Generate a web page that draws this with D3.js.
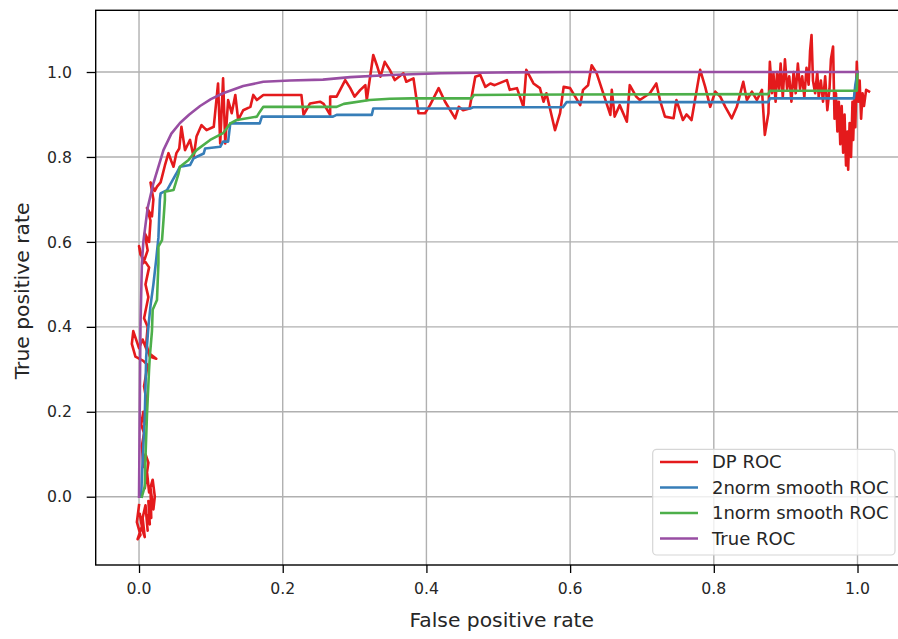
<!DOCTYPE html>
<html><head><meta charset="utf-8">
<script src="https://cdn.jsdelivr.net/npm/d3@7"></script>
<style>body{margin:0;background:#fff}svg{display:block}text{font-family:"DejaVu Sans",sans-serif;fill:#262626}</style>
</head><body><svg id="c" width="898" height="639"></svg>
<script>
const xTicks=[0.0,0.2,0.4,0.6,0.8,1.0];
const yTicks=[0.0,0.2,0.4,0.6,0.8,1.0];
const xLabel="False positive rate";
const yLabel="True positive rate";
const seriesNames=["DP ROC","2norm smooth ROC","1norm smooth ROC","True ROC"];
const seriesColors=["#e41a1c","#377eb8","#4daf4a","#984ea3"];
const dpFpr=[0.000,-0.003,0.002,-0.002,0.004,0.001,0.006,0.008,0.005,0.009,0.012,0.010,0.015,0.013,0.017,0.016,0.020,0.022,0.019,0.014,0.011,0.008,0.013,0.009,0.006,0.004,0.007,0.003,0.006,0.008,0.010,0.007,0.010,0.012,0.006,-0.005,-0.010,-0.008,0.000,0.005,0.012,0.020,0.024,0.015,0.010,0.012,0.007,0.013,0.009,0.014,0.002,0.000,0.006,0.012,0.008,0.014,0.016,0.011,0.018,0.020,0.016,0.022,0.025,0.030,0.032,0.036,0.041,0.045,0.048,0.052,0.056,0.059,0.064,0.068,0.071,0.076,0.080,0.087,0.094,0.104,0.110,0.113,0.117,0.120,0.124,0.129,0.134,0.138,0.145,0.155,0.159,0.164,0.173,0.226,0.229,0.238,0.252,0.257,0.266,0.266,0.275,0.287,0.294,0.300,0.308,0.315,0.317,0.326,0.331,0.336,0.342,0.349,0.356,0.368,0.372,0.382,0.389,0.398,0.405,0.417,0.426,0.440,0.445,0.451,0.460,0.468,0.475,0.482,0.489,0.495,0.512,0.516,0.526,0.535,0.539,0.549,0.558,0.563,0.567,0.579,0.586,0.591,0.600,0.614,0.618,0.625,0.630,0.637,0.656,0.658,0.662,0.669,0.679,0.683,0.692,0.697,0.711,0.720,0.725,0.732,0.744,0.748,0.757,0.762,0.769,0.781,0.788,0.795,0.802,0.809,0.816,0.825,0.832,0.841,0.846,0.853,0.860,0.867,0.871,0.876,0.878,0.881,0.883,0.886,0.888,0.891,0.893,0.896,0.899,0.902,0.905,0.908,0.911,0.914,0.917,0.920,0.923,0.926,0.929,0.932,0.934,0.936,0.938,0.941,0.944,0.946,0.949,0.952,0.955,0.958,0.961,0.963,0.966,0.968,0.970,0.972,0.974,0.976,0.978,0.980,0.982,0.984,0.986,0.987,0.989,0.991,0.993,0.994,0.996,0.997,0.999,1.001,1.003,1.005,1.007,1.009,1.012,1.016];
const dpTpr=[-0.02,-0.06,-0.09,-0.10,-0.07,-0.04,-0.085,-0.095,-0.05,-0.02,-0.08,-0.04,-0.065,-0.01,-0.05,0.02,-0.03,0.00,0.04,0.01,0.06,0.02,0.08,0.10,0.07,0.12,0.15,0.17,0.20,0.17,0.23,0.26,0.29,0.31,0.32,0.33,0.36,0.39,0.35,0.37,0.34,0.33,0.325,0.33,0.36,0.40,0.42,0.47,0.50,0.54,0.57,0.59,0.55,0.58,0.62,0.60,0.65,0.68,0.66,0.70,0.74,0.72,0.73,0.74,0.753,0.78,0.809,0.79,0.777,0.809,0.82,0.871,0.816,0.83,0.84,0.80,0.848,0.875,0.863,0.871,0.973,0.832,0.985,0.832,0.934,0.903,0.946,0.887,0.91,0.918,0.946,0.934,0.946,0.946,0.899,0.926,0.93,0.925,0.899,0.942,0.942,0.981,0.962,0.942,0.958,0.969,0.934,1.04,1.016,0.989,1.024,1.005,0.981,0.997,0.977,0.985,0.903,0.903,0.922,0.962,0.93,0.891,0.918,0.91,0.914,0.989,0.993,0.965,0.973,0.969,0.981,0.958,0.962,0.918,1.005,0.973,0.962,0.93,0.95,0.863,0.903,0.965,0.962,0.922,0.958,0.969,1.016,0.997,0.899,0.958,0.895,0.922,0.883,0.969,0.942,0.934,0.95,0.973,0.934,0.895,0.891,0.934,0.887,0.90,0.887,1.005,0.965,0.918,0.954,0.942,0.918,0.891,0.918,0.977,0.934,0.954,0.934,0.958,0.852,0.903,1.024,0.95,0.997,0.93,1.0,0.96,1.02,0.94,1.03,0.96,0.99,0.93,1.0,0.95,1.02,0.96,0.99,0.94,1.01,0.97,1.05,1.087,0.98,0.95,1.0,0.94,0.98,0.93,0.99,0.91,0.96,1.03,1.06,0.89,0.95,0.86,0.93,0.83,0.92,0.81,0.90,0.78,0.86,0.77,0.88,0.80,0.93,0.84,0.95,0.87,1.024,0.93,0.98,0.89,0.95,0.92,0.958,0.954];
const n2Fpr=[0.003,0.004,0.008,0.010,0.013,0.016,0.020,0.024,0.027,0.029,0.030,0.039,0.045,0.052,0.057,0.071,0.076,0.090,0.092,0.113,0.117,0.124,0.127,0.168,0.171,0.270,0.275,0.324,0.326,0.461,0.465,0.590,0.595,0.876,0.878,0.995,0.997,1.000];
const n2Tpr=[0.000,0.047,0.190,0.330,0.400,0.450,0.500,0.560,0.610,0.700,0.714,0.722,0.740,0.761,0.777,0.781,0.797,0.808,0.820,0.824,0.836,0.836,0.879,0.879,0.895,0.895,0.899,0.899,0.914,0.914,0.917,0.917,0.929,0.929,0.938,0.938,0.970,1.000];
const n1Fpr=[0.004,0.008,0.009,0.011,0.014,0.015,0.018,0.019,0.025,0.027,0.027,0.032,0.034,0.036,0.036,0.048,0.055,0.057,0.069,0.080,0.099,0.117,0.127,0.136,0.164,0.168,0.173,0.275,0.285,0.321,0.349,0.380,0.463,0.466,0.600,0.876,0.878,0.999,1.000];
const n1Tpr=[0.000,0.024,0.094,0.190,0.300,0.330,0.390,0.440,0.463,0.550,0.589,0.604,0.650,0.699,0.718,0.722,0.761,0.777,0.793,0.816,0.840,0.856,0.879,0.887,0.895,0.906,0.918,0.918,0.925,0.934,0.937,0.938,0.938,0.946,0.947,0.948,0.956,0.956,1.000];
const trueFpr=[0,0.001,0.002,0.004,0.006,0.012,0.020,0.034,0.045,0.057,0.070,0.085,0.100,0.117,0.145,0.173,0.210,0.256,0.294,0.349,0.420,0.500,0.600,1.000];
const trueTpr=[0,0.2,0.4,0.55,0.6,0.68,0.738,0.816,0.855,0.88,0.9,0.92,0.936,0.95,0.967,0.977,0.98,0.982,0.988,0.993,0.997,0.999,1.0,1.0];

const L=95.7,R=907.8,T=10.3,B=565;
const x=d3.scaleLinear().domain([-0.0603,1.07]).range([L,R]);
const y=d3.scaleLinear().domain([-0.1608,1.1453]).range([B,T]);
const svg=d3.select("#c");
svg.append("defs").append("clipPath").attr("id","clip").append("rect").attr("x",L).attr("y",T).attr("width",R-L).attr("height",B-T);
function label(px,py,txt,size,anchor,rot){
  return svg.append("text").attr("transform",`translate(${px},${py})`+(rot?" rotate(-90)":""))
    .attr("text-anchor",anchor).attr("dy","0.36em").style("font-size",size+"px").text(txt);
}
// grid
const g=svg.append("g");
g.selectAll(".gx").data(xTicks).join("line").attr("x1",d=>x(d)).attr("x2",d=>x(d)).attr("y1",T).attr("y2",B).attr("stroke","#b0b0b0").attr("stroke-width",1.4);
g.selectAll(".gy").data(yTicks).join("line").attr("y1",d=>y(d)).attr("y2",d=>y(d)).attr("x1",L).attr("x2",R).attr("stroke","#b0b0b0").attr("stroke-width",1.4);
// lines
const sets=[[dpFpr,dpTpr],[n2Fpr,n2Tpr],[n1Fpr,n1Tpr],[trueFpr,trueTpr]];
const line=d3.line().x(d=>x(d[0])).y(d=>y(d[1]));
const lg=svg.append("g").attr("clip-path","url(#clip)");
sets.forEach((s,i)=>{
  const pts=s[0].map((v,j)=>[v,s[1][j]]);
  lg.append("path").datum(pts).attr("d",line).attr("fill","none").attr("stroke",seriesColors[i]).attr("stroke-width",2.6).attr("stroke-linejoin","round").attr("stroke-linecap","square");
});
// axes (tick marks)
const xa=svg.append("g").attr("transform",`translate(0,${B})`).call(d3.axisBottom(x).tickValues(xTicks).tickFormat("").tickSize(8));
const ya=svg.append("g").attr("transform",`translate(${L},0)`).call(d3.axisLeft(y).tickValues(yTicks).tickFormat("").tickSize(9));
[xa,ya].forEach(a=>{a.select(".domain").remove();a.selectAll("line").attr("stroke","#000").attr("stroke-width",1.3);});
const fmt=d3.format(".1f");
xTicks.forEach(t=>label(x(t),588,fmt(t),15.7,"middle"));
yTicks.forEach(t=>label(72,y(t),fmt(t),15.7,"end"));
// spines
svg.append("rect").attr("x",L).attr("y",T).attr("width",R-L).attr("height",B-T).attr("fill","none").attr("stroke","#000").attr("stroke-width",1.4);
// axis labels
label((L+R)/2,620,xLabel,20.3,"middle");
label(22,291,yLabel,20.3,"middle",true);
// legend
const leg=svg.append("g");
leg.append("rect").attr("x",652.7).attr("y",449.3).attr("width",242.3).attr("height",105.7).attr("rx",4).attr("fill","#fff").attr("fill-opacity",0.8).attr("stroke","#d6d6d6").attr("stroke-width",1.2);
seriesNames.forEach((nm,i)=>{
  const yy=462+i*25.5;
  leg.append("line").attr("x1",660).attr("x2",698).attr("y1",yy).attr("y2",yy).attr("stroke",seriesColors[i]).attr("stroke-width",2.6);
  label(712,yy,nm,18,"start");
});
</script></body></html>
